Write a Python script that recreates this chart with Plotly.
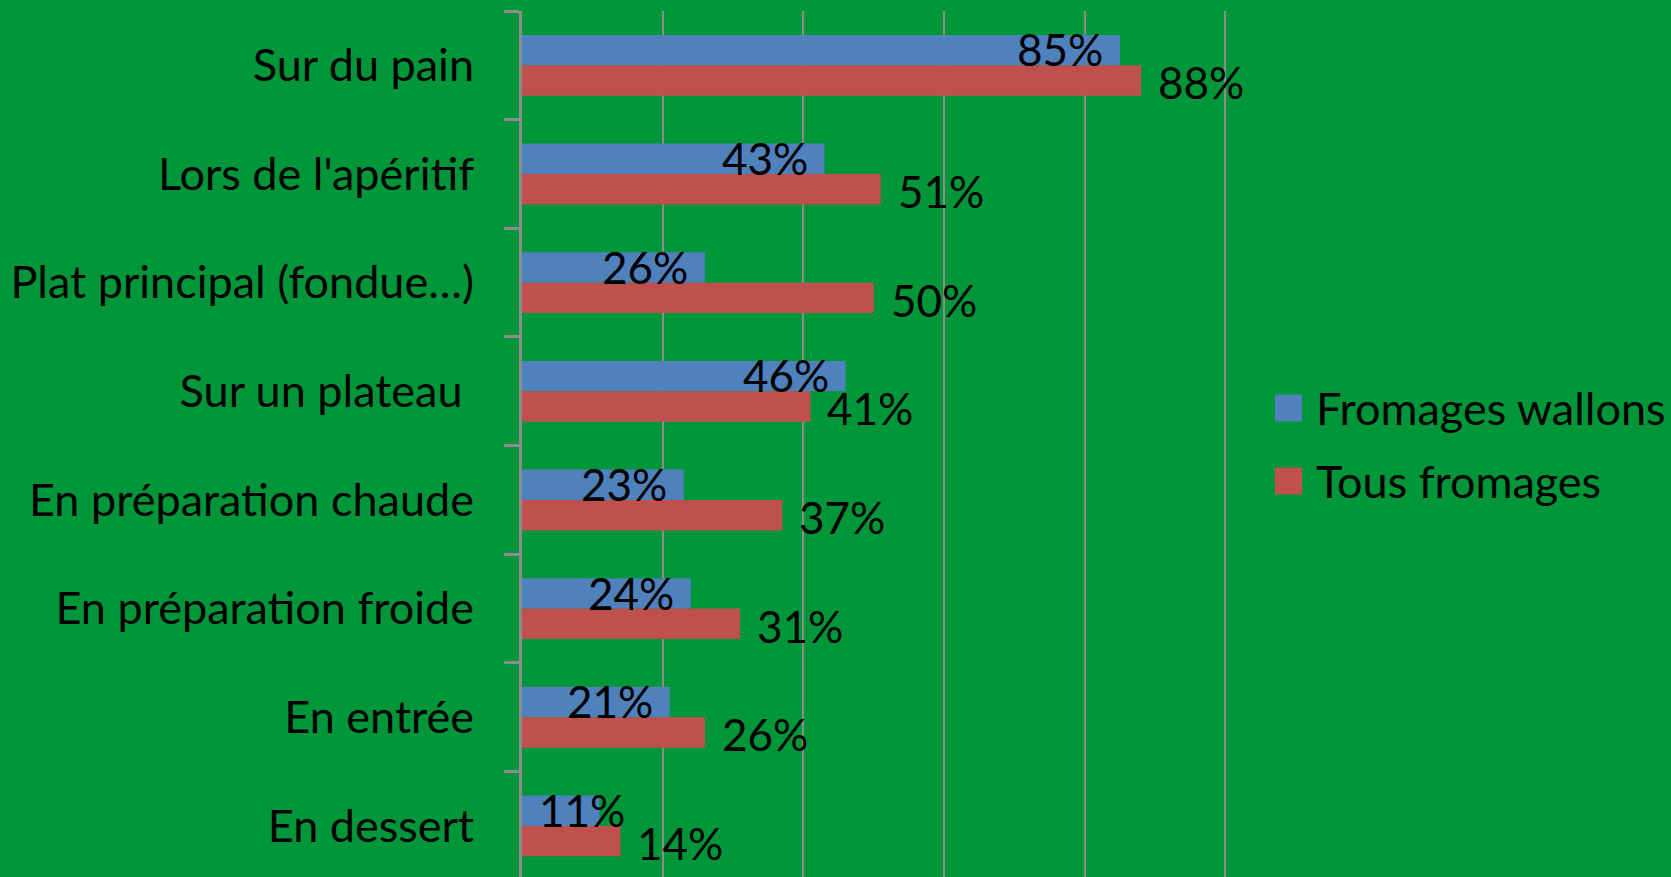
import plotly.graph_objects as go

categories = ["Sur du pain", "Lors de l'apéritif", "Plat principal (fondue…)",
              "Sur un plateau\u00a0", "En préparation chaude", "En préparation froide",
              "En entrée", "En dessert"]
series_names = ["Fromages wallons", "Tous fromages"]
wallons = [0.85, 0.43, 0.26, 0.46, 0.23, 0.24, 0.21, 0.11]
tous = [0.88, 0.51, 0.50, 0.41, 0.37, 0.31, 0.26, 0.14]
colors = ["#4F81BD", "#C0504D"]

W, H = 1671, 877
XMAX = 1.005
ML, MT, MB = 522, 11, 0
unit_w = 703.5
MR = int(round(W - ML - unit_w * XMAX))
BG = "#009639"
FONT = "Lato"
FS = 45
LFS = 44
plot_w = W - ML - MR
plot_h = H - MT - MB

fig = go.Figure()
for name, vals, col in zip(series_names, [wallons, tous], colors):
    fig.add_trace(go.Bar(y=categories, x=vals, name=name, orientation="h",
                         marker=dict(color=col, line=dict(width=0)), showlegend=False))

annotations = []
# blue labels: inside end, red labels: outside end
for v, c in zip(wallons, categories):
    if v * unit_w < 110:
        annotations.append(dict(x=0, y=c, xref="x", yref="y", text=f"{round(v*100)}%",
                                xanchor="left", yanchor="middle", xshift=15, yshift=16,
                                showarrow=False, font=dict(family=FONT, size=LFS, color="black")))
    else:
        annotations.append(dict(x=v, y=c, xref="x", yref="y", text=f"{round(v*100)}%",
                                xanchor="right", yanchor="middle", xshift=-15, yshift=16,
                                showarrow=False, font=dict(family=FONT, size=LFS, color="black")))
for v, c in zip(tous, categories):
    annotations.append(dict(x=v, y=c, xref="x", yref="y", text=f"{round(v*100)}%",
                            xanchor="left", yanchor="middle", xshift=15, yshift=-17,
                            showarrow=False, font=dict(family=FONT, size=LFS, color="black")))

def px2paper(px, py):
    return (px - ML) / plot_w, (H - MB - py) / plot_h

shapes = []
legend_y = [408, 481]
for name, col, ly in zip(series_names, colors, legend_y):
    x0, y0 = px2paper(1275, ly - 13.5)
    x1, y1 = px2paper(1302, ly + 13.5)
    shapes.append(dict(type="rect", xref="paper", yref="paper", x0=x0, x1=x1, y0=y1, y1=y0,
                       fillcolor=col, line=dict(width=0)))
    tx, ty = px2paper(1314, ly)
    annotations.append(dict(x=tx, y=ty, xref="paper", yref="paper", text=name,
                            xanchor="left", yanchor="middle", showarrow=False,
                            font=dict(family=FONT, size=FS, color="black")))

fig.update_layout(
    width=W, height=H,
    margin=dict(l=ML, r=MR, t=MT, b=MB, pad=0),
    paper_bgcolor=BG, plot_bgcolor=BG,
    barmode="group", bargap=0.44, bargroupgap=0,
    font=dict(family=FONT, size=FS, color="black"),
    annotations=annotations, shapes=shapes,
    xaxis=dict(range=[0, XMAX], dtick=0.2, showgrid=True, gridcolor="#8C8C8C", gridwidth=1.5,
               zeroline=False, showticklabels=False, showline=False, fixedrange=True),
    yaxis=dict(range=[7.47, -0.5], type="category", tickson="boundaries", ticks="outside",
               ticklen=15, tickwidth=3, tickcolor="#8C8C8C", showline=True, linecolor="#8C8C8C",
               linewidth=3, showgrid=False, ticklabelstandoff=36, fixedrange=True,
               tickfont=dict(family=FONT, size=FS, color="black")),
)

fig.write_html("out.html", config={"displayModeBar": False},
               post_script="document.body.style.margin='0';document.body.style.padding='0';"
                           "document.body.style.overflow='hidden';"
                           "document.body.style.background='" + BG + "';")
